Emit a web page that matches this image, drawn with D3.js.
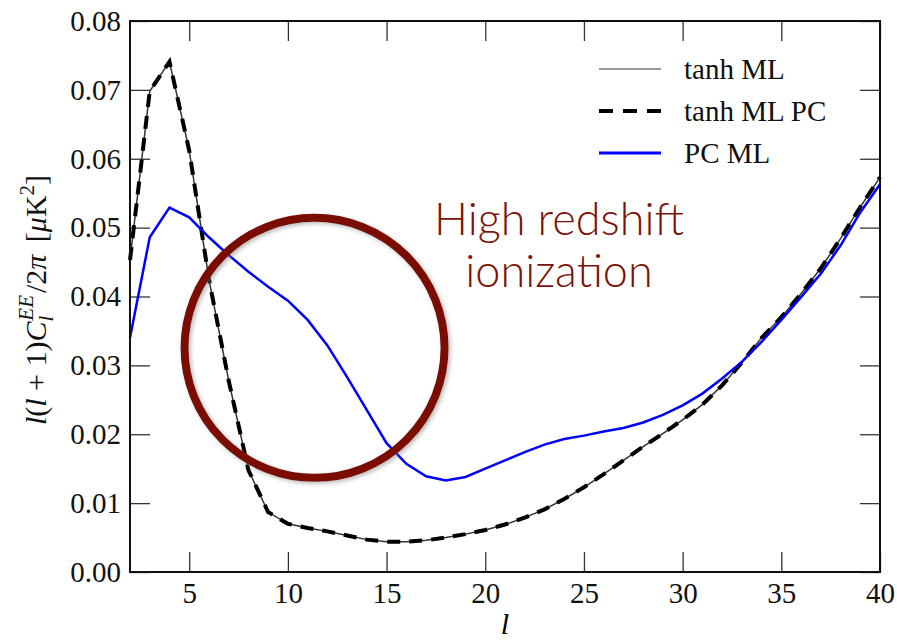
<!DOCTYPE html>
<html>
<head>
<meta charset="utf-8">
<script src="https://cdn.jsdelivr.net/npm/d3@7"></script>
<style>
	body { margin: 0; background: #fff; }
	.axis text { font-family: "Liberation Serif", serif; font-size: 29px; fill: #111; }
	.axis path { display: none; }
	.axis line { stroke: #333; stroke-width: 1.3; }
</style>
</head>
<body>
<svg id="chart" width="897" height="640"></svg>
<script>
"use strict";

// multipole l
var ells = d3.range(2, 41);

// tanh ML and tanh ML PC lie on top of each other
var tanhML = [0.0453, 0.0698, 0.0741, 0.0612, 0.0425, 0.0278, 0.0148, 0.0087, 0.0070, 0.0064,
	0.0059, 0.0053, 0.0047, 0.0044, 0.0044, 0.0046, 0.0050, 0.0055, 0.0061, 0.0069,
	0.0079, 0.0091, 0.0106, 0.0123, 0.0142, 0.0162, 0.0182, 0.0201, 0.0221, 0.0243,
	0.0271, 0.0304, 0.0340, 0.0370, 0.0404, 0.0441, 0.0484, 0.0530, 0.0573];

var tanhMLPC = [0.0453, 0.0698, 0.0741, 0.0612, 0.0425, 0.0278, 0.0148, 0.0087, 0.0070, 0.0064,
	0.0059, 0.0053, 0.0047, 0.0044, 0.0044, 0.0046, 0.0050, 0.0055, 0.0061, 0.0069,
	0.0079, 0.0091, 0.0106, 0.0123, 0.0142, 0.0162, 0.0182, 0.0201, 0.0221, 0.0243,
	0.0271, 0.0304, 0.0340, 0.0370, 0.0404, 0.0441, 0.0484, 0.0530, 0.0573];

var pcML = [0.0340, 0.0486, 0.0529, 0.0515, 0.0486, 0.0460, 0.0436, 0.0414, 0.0394, 0.0366,
	0.0329, 0.0283, 0.0235, 0.0187, 0.0157, 0.0139, 0.0133, 0.0138, 0.0150, 0.0162,
	0.0174, 0.0185, 0.0193, 0.0198, 0.0204, 0.0209, 0.0217, 0.0228, 0.0242, 0.0259,
	0.0281, 0.0305, 0.0334, 0.0366, 0.0399, 0.0433, 0.0474, 0.0522, 0.0563];

var xTicks = [5, 10, 15, 20, 25, 30, 35, 40];
var yTicks = [0.00, 0.01, 0.02, 0.03, 0.04, 0.05, 0.06, 0.07, 0.08];
var legendLabels = ["tanh ML", "tanh ML PC", "PC ML"];
var noteLines = ["High redshift", "ionization"];
var noteCenter = [11.35, 0.03255];

var margin = {left: 130, right: 17, top: 21, bottom: 68};
var width = 897 - margin.left - margin.right,
	height = 640 - margin.top - margin.bottom;

var svg = d3.select("#chart");

var x = d3.scaleLinear().domain([2, 40]).range([0, width]);
var y = d3.scaleLinear().domain([0, 0.08]).range([height, 0]);

var defs = svg.append("defs");
var shadow = defs.append("filter")
	.attr("id", "shadow")
	.attr("x", "-20%").attr("y", "-20%")
	.attr("width", "140%").attr("height", "140%");
shadow.append("feDropShadow")
	.attr("dx", 2).attr("dy", 2)
	.attr("stdDeviation", 2)
	.attr("flood-color", "#777")
	.attr("flood-opacity", 0.5);

var g = svg.append("g")
	.attr("transform", "translate(" + margin.left + "," + margin.top + ")");

// inward ticks on all four sides
g.append("g")
	.attr("class", "axis axis--x")
	.attr("transform", "translate(0," + height + ")")
	.call(d3.axisBottom(x).tickValues(xTicks).tickSizeInner(-20).tickSizeOuter(0).tickPadding(10));

g.append("g")
	.attr("class", "axis axis--y")
	.call(d3.axisLeft(y).tickValues(yTicks).tickFormat(d3.format(".2f"))
		.tickSizeInner(-20).tickSizeOuter(0).tickPadding(9));

g.append("g")
	.attr("class", "axis")
	.call(d3.axisTop(x).tickValues(xTicks).tickFormat("").tickSizeInner(-20).tickSizeOuter(0));

g.append("g")
	.attr("class", "axis")
	.attr("transform", "translate(" + width + ",0)")
	.call(d3.axisRight(y).tickValues(yTicks).tickFormat("").tickSizeInner(-20).tickSizeOuter(0));

function series(values) {
	return ells.map(function(l, i) { return [l, values[i]]; });
}

var line = d3.line()
	.x(function(d) { return x(d[0]); })
	.y(function(d) { return y(d[1]); });

g.append("path")
	.datum(series(tanhML))
	.attr("fill", "none")
	.attr("stroke", "#333")
	.attr("stroke-width", 1.5)
	.attr("d", line);

g.append("path")
	.datum(series(tanhMLPC))
	.attr("fill", "none")
	.attr("stroke", "#000")
	.attr("stroke-width", 4)
	.attr("stroke-dasharray", "13,9")
	.attr("d", line);

g.append("path")
	.datum(series(pcML))
	.attr("fill", "none")
	.attr("stroke", "#0000ff")
	.attr("stroke-width", 2.5)
	.attr("d", line);

// frame
g.append("rect")
	.attr("width", width)
	.attr("height", height)
	.attr("fill", "none")
	.attr("stroke", "#111")
	.attr("stroke-width", 2);

/*
 * Legend
 */
var legendStyles = [
	{stroke: "#999", width: 2, dash: null},
	{stroke: "#000", width: 4, dash: "14,10"},
	{stroke: "#0000ff", width: 3, dash: null}
];

var legend = g.selectAll(".legend")
	.data(legendLabels)
	.enter().append("g")
		.attr("class", "legend")
		.attr("transform", function(d, i) { return "translate(469," + (48 + i * 42) + ")"; });

legend.append("line")
	.attr("x1", 0)
	.attr("x2", 62)
	.attr("stroke", function(d, i) { return legendStyles[i].stroke; })
	.attr("stroke-width", function(d, i) { return legendStyles[i].width; })
	.attr("stroke-dasharray", function(d, i) { return legendStyles[i].dash; });

legend.append("text")
	.attr("x", 85)
	.attr("dy", "0.36em")
	.style("font-family", "Liberation Serif, serif")
	.style("font-size", "29px")
	.style("fill", "#111")
	.text(function(d) { return d; });

/*
 * Annotation
 */
g.append("circle")
	.attr("cx", x(noteCenter[0]))
	.attr("cy", y(noteCenter[1]))
	.attr("r", 130)
	.attr("fill", "none")
	.attr("stroke", "#7a0d05")
	.attr("stroke-width", 8)
	.attr("filter", "url(#shadow)");

svg.selectAll(".note")
	.data(noteLines)
	.enter().append("text")
		.attr("class", "note")
		.attr("x", 559)
		.attr("y", function(d, i) { return 235 + i * 52; })
		.style("text-anchor", "middle")
		.style("font-family", "Lato, 'Liberation Sans', sans-serif")
		.style("font-weight", 300)
		.style("font-size", "45px")
		.style("fill", "#7b1208")
		.text(function(d) { return d; });

// x-axis label
svg.append("text")
	.attr("x", margin.left + width / 2)
	.attr("y", 634)
	.style("text-anchor", "middle")
	.style("font-family", "Liberation Serif, serif")
	.style("font-style", "italic")
	.style("font-size", "30px")
	.text("l");

// y-axis label
var ylab = svg.append("text")
	.attr("transform", "translate(46,300)rotate(-90)")
	.style("text-anchor", "middle")
	.style("font-family", "Liberation Serif, serif")
	.style("font-size", "30px")
	.style("fill", "#111");

var parts = [
	{t: "l", it: true}, {t: "("}, {t: "l", it: true}, {t: " + 1)"},
	{t: "C", it: true},
	{t: "l", it: true, size: 21, dy: 7},
	{t: "EE", it: true, size: 21, dy: -20, dx: -5},
	{t: "/2", dy: 13, dx: 2}, {t: "π", it: true},
	{t: " [", dx: 5}, {t: "μ", it: true}, {t: "K"},
	{t: "2", size: 21, dy: -12}, {t: "]", dy: 12}
];
parts.forEach(function(p) {
	var ts = ylab.append("tspan").text(p.t);
	if(p.it) ts.style("font-style", "italic");
	if(p.size) ts.style("font-size", p.size + "px");
	if(p.dy) ts.attr("dy", p.dy);
	if(p.dx) ts.attr("dx", p.dx);
});
</script>
</body>
</html>
